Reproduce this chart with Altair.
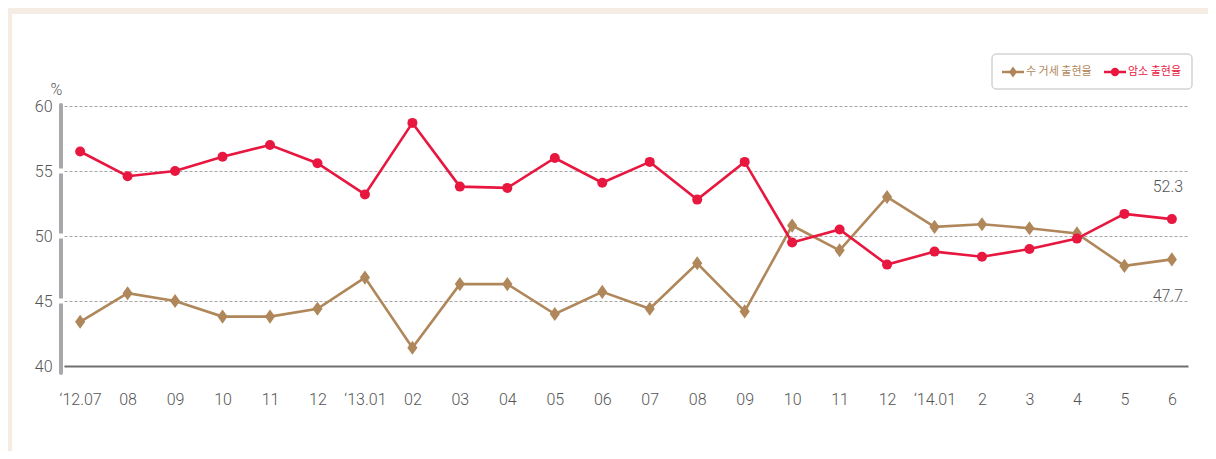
import json
import altair as alt
import pandas as pd

# ---- data -------------------------------------------------------------
months = ["‘12.07", "08", "09", "10", "11", "12", "‘13.01", "02", "03", "04",
          "05", "06", "07", "08", "09", "10", "11", "12", "‘14.01", "2", "3",
          "4", "5", "6"]
steer_name = "수 거세 출현율"
cow_name = "암소 출현율"
steer_vals = [43.4, 45.6, 45.0, 43.8, 43.8, 44.4, 46.8, 41.4, 46.3, 46.3,
              44.0, 45.7, 44.4, 47.9, 44.2, 50.8, 48.9, 53.0, 50.7, 50.9,
              50.6, 50.2, 47.7, 48.2]
cow_vals = [56.5, 54.6, 55.0, 56.1, 57.0, 55.6, 53.2, 58.7, 53.8, 53.7,
            56.0, 54.1, 55.7, 52.8, 55.7, 49.5, 50.5, 47.8, 48.8, 48.4,
            49.0, 49.8, 51.7, 51.3]
end_labels = {steer_name: "47.7", cow_name: "52.3"}
y_ticks = [40, 45, 50, 55, 60]

BROWN = "#B0875A"
RED = "#E8173F"
BEIGE = "#F5EDE4"
NUM_FONT = "Roboto"
NUM_W = 300
KR_FONT = "Noto Sans CJK KR"

rows = []
for i, m in enumerate(months):
    rows.append({"idx": i, "series": steer_name, "value": steer_vals[i]})
    rows.append({"idx": i, "series": cow_name, "value": cow_vals[i]})
df = pd.DataFrame(rows)
df["end"] = df["series"].map(end_labels)

one = pd.DataFrame({"k": [0]})
series_df = pd.DataFrame({"series": [steer_name, cow_name]})

W, H = 1124, 260
label_expr = json.dumps(months, ensure_ascii=False) + "[datum.value]"

x_enc = alt.X("idx:O", sort=None,
              scale=alt.Scale(type="point", padding=0.34),
              axis=alt.Axis(title=None, labelExpr=label_expr, labelAngle=0,
                            ticks=False, domainColor="#6D6E70", domainWidth=2,
                            labelFont=NUM_FONT, labelFontSize=16,
                            labelFontWeight=NUM_W,
                            labelColor="#555555", labelPadding=25, grid=False))
y_enc = alt.Y("value:Q",
              scale=alt.Scale(domain=[40, 60], nice=False, zero=False),
              axis=alt.Axis(values=y_ticks, title="%", titleAngle=0,
                            titleX=-8, titleY=-17, titleAlign="center",
                            titleBaseline="middle", titleFont=NUM_FONT,
                            titleFontSize=16, titleFontWeight=NUM_W,
                            titleColor="#555555",
                            domain=False, ticks=False, labelPadding=12,
                            labelFont=NUM_FONT, labelFontSize=16,
                            labelFontWeight=NUM_W,
                            labelColor="#555555", grid=True,
                            gridDash=[3, 2], gridColor="#A5A5A5",
                            gridWidth=1))

color_scale = alt.Scale(domain=[steer_name, cow_name], range=[BROWN, RED])

# beige frame strips (top and left)
frame_top = alt.Chart(one).mark_rect(fill=BEIGE).encode(
    x=alt.value(-56), x2=alt.value(1144), y=alt.value(-98), y2=alt.value(-92))
frame_left = alt.Chart(one).mark_rect(fill=BEIGE).encode(
    x=alt.value(-56), x2=alt.value(-52), y=alt.value(-98), y2=alt.value(345))

lines = alt.Chart(df).mark_line(strokeWidth=2.6).encode(
    x=x_enc, y=y_enc,
    color=alt.Color("series:N", scale=color_scale, legend=None),
    order=alt.Order("idx:Q"))

diamond = "M0,-1L0.72,0L0,1L-0.72,0Z"
pts_steer = alt.Chart(df).transform_filter(
    alt.datum.series == steer_name).mark_point(
    shape=diamond, filled=True, size=200, color=BROWN, opacity=1).encode(
    x="idx:O", y="value:Q")
pts_cow = alt.Chart(df).transform_filter(
    alt.datum.series == cow_name).mark_point(
    shape="circle", filled=True, size=100, color=RED, opacity=1).encode(
    x="idx:O", y="value:Q")

last = len(months) - 1
txt_cow = alt.Chart(df).transform_filter(
    (alt.datum.series == cow_name) & (alt.datum.idx == last)).mark_text(
    font=NUM_FONT, fontSize=16, fontWeight=NUM_W, color="#555555", dy=-32,
    dx=-4, baseline="middle").encode(x="idx:O", y="value:Q", text="end:N")
txt_steer = alt.Chart(df).transform_filter(
    (alt.datum.series == steer_name) & (alt.datum.idx == last)).mark_text(
    font=NUM_FONT, fontSize=16, fontWeight=NUM_W, color="#555555", dy=37,
    dx=-4, baseline="middle").encode(x="idx:O", y="value:Q", text="end:N")

# thick left bar with gaps
ybar = alt.Chart(one).mark_rule(color="#A7A8AA", strokeWidth=4,
                                strokeCap="round").encode(
    x=alt.value(-3), y=alt.value(-1), y2=alt.value(H + 7))
gaps = alt.layer(*[
    alt.Chart(one).mark_rule(color="white", strokeWidth=5).encode(
        x=alt.value(-7), x2=alt.value(0), y=alt.datum(v))
    for v in y_ticks[1:-1]
])

# manual legend
lg_box = alt.Chart(one).mark_rect(fill="white", stroke="#BDBDBD",
                                  strokeWidth=1, cornerRadius=4).encode(
    x=alt.value(928), x2=alt.value(1128), y=alt.value(-52), y2=alt.value(-17))
LY = -34


def legend_entry(name, color, x0, shape, size):
    sub = alt.Chart(series_df).transform_filter(alt.datum.series == name)
    r = sub.mark_rule(color=color, strokeWidth=2.5).encode(
        x=alt.value(x0), x2=alt.value(x0 + 22), y=alt.value(LY))
    p = sub.mark_point(shape=shape, filled=True, size=size, color=color,
                       opacity=1).encode(x=alt.value(x0 + 11), y=alt.value(LY))
    t = sub.mark_text(font=KR_FONT, fontSize=11, color=color, align="left",
                      baseline="middle").encode(
        x=alt.value(x0 + 24), y=alt.value(LY), text="series:N")
    return r + p + t


legend = lg_box + legend_entry(steer_name, BROWN, 938, diamond, 120) + \
    legend_entry(cow_name, RED, 1040, "circle", 70)

chart = alt.layer(frame_top, frame_left, ybar, gaps, lines, pts_steer,
                  pts_cow, txt_cow, txt_steer, legend).properties(
    width=W, height=H,
    background="white",
    padding={"left": 56, "top": 98, "right": 20, "bottom": 85},
    autosize=alt.AutoSizeParams(type="none"),
).configure_view(stroke=None)

chart.save("out.html", embed_options={"renderer": "svg", "actions": False})
